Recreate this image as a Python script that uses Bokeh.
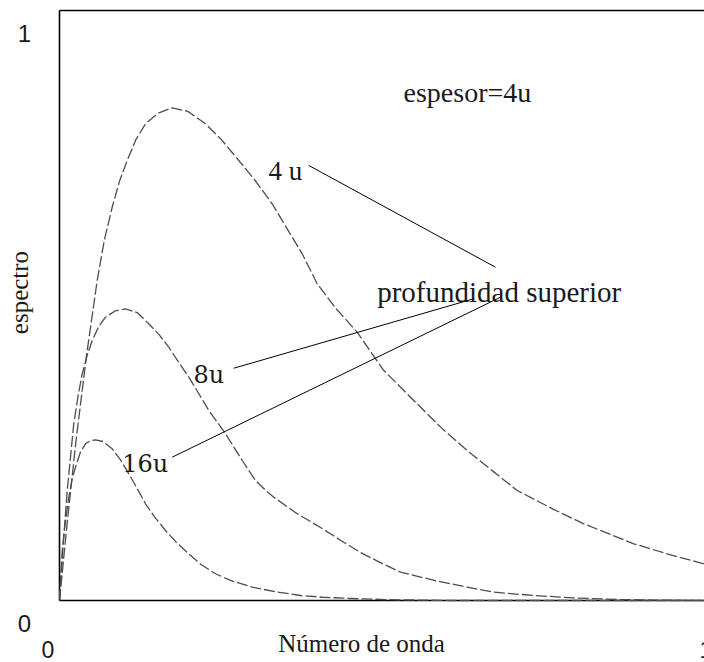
from bokeh.plotting import figure
from bokeh.models import Range1d, Label
from bokeh.embed import file_html
from bokeh.resources import INLINE

# --- data (x: Número de onda, y: espectro) ---
k_4u = [0.0, 0.012, 0.025, 0.041, 0.0573, 0.068, 0.0801, 0.091, 0.1029, 0.116, 0.1307,
        0.150, 0.1713, 0.195, 0.2219, 0.247, 0.2725, 0.298, 0.3232, 0.346, 0.3688,
        0.3916, 0.420, 0.4524, 0.4929, 0.5410, 0.580, 0.6196, 0.660, 0.6956, 0.750,
        0.7968, 0.8728, 0.930, 0.9792, 1.0]
s_4u = [0.0, 0.135, 0.27, 0.415, 0.5424, 0.610, 0.6666, 0.710, 0.7458, 0.781, 0.8080,
        0.826, 0.8351, 0.829, 0.8080, 0.780, 0.7458, 0.711, 0.6724, 0.630, 0.5876,
        0.5368, 0.495, 0.4548, 0.3898, 0.3361, 0.293, 0.2542, 0.218, 0.1864, 0.155,
        0.1300, 0.0961, 0.077, 0.0622, 0.058]

k_8u = [0.0, 0.006, 0.0117, 0.0217, 0.028, 0.0345, 0.042, 0.0497, 0.060, 0.0699, 0.085,
        0.1003, 0.118, 0.1357, 0.151, 0.1661, 0.181, 0.1965, 0.212, 0.2269, 0.240,
        0.2523, 0.265, 0.2777, 0.2979, 0.312, 0.3257, 0.360, 0.3967, 0.430, 0.4574,
        0.490, 0.5182, 0.570, 0.6196, 0.6596, 0.7204, 0.780, 0.8476, 0.920, 1.0]
s_8u = [0.0, 0.100, 0.1864, 0.2995, 0.345, 0.3842, 0.415, 0.4407, 0.465, 0.4802, 0.491,
        0.4944, 0.488, 0.4690, 0.451, 0.4293, 0.404, 0.3785, 0.350, 0.3220, 0.302,
        0.2825, 0.260, 0.2373, 0.2034, 0.188, 0.1751, 0.148, 0.1237, 0.100, 0.0814,
        0.063, 0.0480, 0.034, 0.0225, 0.0141, 0.0085, 0.0045, 0.0017, 0.0005, 0.0]

k_16u = [0.0, 0.0041, 0.009, 0.0141, 0.019, 0.0243, 0.032, 0.0395, 0.047, 0.0547, 0.066,
         0.0801, 0.093, 0.1053, 0.118, 0.1307, 0.145, 0.1611, 0.178, 0.1965, 0.215,
         0.2371, 0.260, 0.2929, 0.330, 0.3663, 0.400, 0.4422, 0.500, 0.5942, 1.0]
s_16u = [0.0, 0.0847, 0.135, 0.1751, 0.205, 0.2259, 0.252, 0.2656, 0.271, 0.2724, 0.2695,
         0.2571, 0.238, 0.2147, 0.190, 0.1639, 0.141, 0.1186, 0.098, 0.0792, 0.061,
         0.0453, 0.034, 0.0225, 0.0145, 0.0085, 0.0055, 0.0034, 0.0015, 0.0, 0.0]

x_tick_values = [0, 1]
x_tick_labels = ["0", "1"]
y_tick_values = [0, 1]
y_tick_labels = ["0", "1"]
x_title = "Número de onda"
y_title = "espectro"

# --- figure: the frame fills the canvas; the box is drawn explicitly ---
W, H = 704, 662
X0_PX, X1_PX = 59, 717      # pixel of x=0 and x=1
Y0_PX, Y1_PX = 600, 10      # pixel of y=0 and y=1
sx = X1_PX - X0_PX
sy = Y0_PX - Y1_PX

p = figure(width=W, height=H, output_backend="svg", toolbar_location=None,
           x_axis_type=None, y_axis_type=None,
           x_range=Range1d(-X0_PX / sx, (W - X0_PX) / sx),
           y_range=Range1d((Y0_PX - H) / sy, Y0_PX / sy))
p.min_border = 0
p.min_border_left = 0
p.min_border_right = 0
p.min_border_top = 0
p.min_border_bottom = 0
p.outline_line_color = None
p.xgrid.visible = False
p.ygrid.visible = False
p.background_fill_color = "white"
p.border_fill_color = "white"

# plot box: left, top and bottom sides (the right side lies beyond the window)
box = dict(line_color="black", line_width=1.6)
p.line([0, 0], [0, 1], **box)
p.line([0, 1.05], [1, 1], **box)
p.line([0, 1.05], [0, 0], **box)

curve_style = dict(line_color="#4d4d4d", line_width=1.3, line_dash="11 3",
                   line_join="round")
p.line(k_4u, s_4u, **curve_style)
p.line(k_8u, s_8u, **curve_style)
p.line(k_16u, s_16u, **curve_style)

# leader lines from the curve labels to "profundidad superior"
leaders = [((0.3789, 0.6626), (0.7373, 0.5649)),
           ((0.2649, 0.6296), (0.3937, 0.5114)),
           ((0.1713, 0.6702), (0.2429, 0.5141))]
for xs, ys in leaders:
    p.line(list(xs), list(ys), line_color="black", line_width=1)

serif = "Liberation Serif"
txt = "#1a1a1a"

def add_label(x, y, text, font, size, align="left", baseline="alphabetic", angle=0):
    p.add_layout(Label(x=x, y=y, text=text, text_font=font, text_font_size=size,
                       text_align=align, text_baseline=baseline, text_color=txt,
                       angle=angle))

add_label(0.5228, 0.8610, "espesor=4u", serif, "28px")
add_label(0.4828, 0.5225, "profundidad superior", serif, "29px")
add_label(0.3176, 0.7288, "4 u", serif, "27px")
add_label(0.2036, 0.3814, "8u", "DejaVu Serif", "24px")
add_label(0.0953, 0.2317, "16u", "DejaVu Serif", "24px")

# axis titles
add_label(0.4590, -0.0729, x_title, serif, "25px", align="center", baseline="middle")
add_label(-40 / sx, 0.522, y_title, serif, "25px", align="center", baseline="middle",
          angle=1.5708)

# tick labels (shifted from their ticks as in the reference)
sans = "Liberation Sans"
for v, t in zip(y_tick_values, y_tick_labels):
    add_label(-35 / sx, v - 22.5 / sy, t, sans, "24px", align="center", baseline="middle")
for v, t in zip(x_tick_values, x_tick_labels):
    add_label(v - 11.5 / sx, -49 / sy, t, sans, "23px", align="center", baseline="middle")

open("out.html", "w").write(file_html(p, INLINE))
